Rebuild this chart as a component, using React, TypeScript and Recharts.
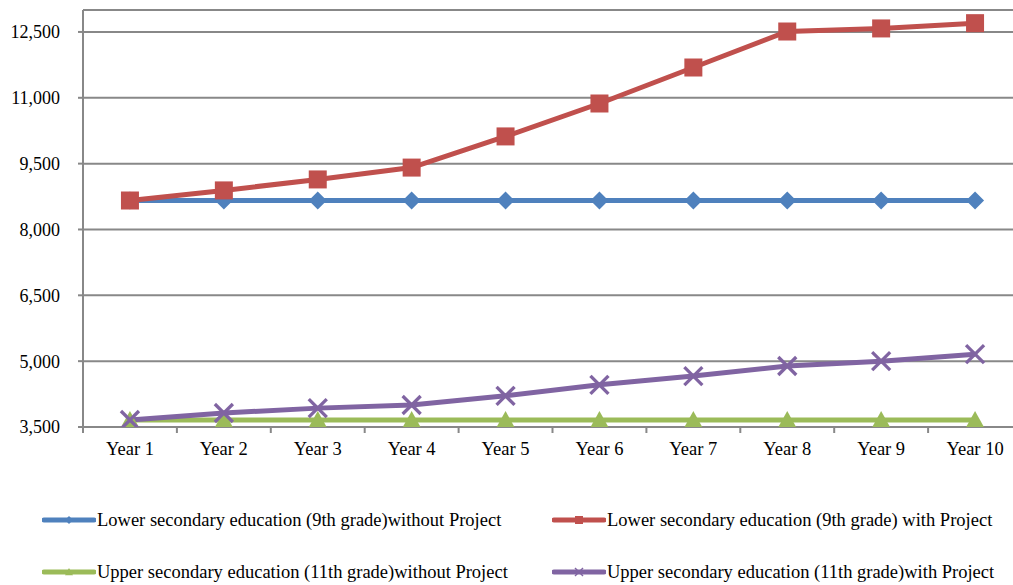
import { LineChart, Line, XAxis, YAxis, CartesianGrid } from 'recharts'

const years = ['Year 1', 'Year 2', 'Year 3', 'Year 4', 'Year 5', 'Year 6', 'Year 7', 'Year 8', 'Year 9', 'Year 10']
const lowerWithout = [8660, 8660, 8660, 8660, 8660, 8660, 8660, 8660, 8660, 8660]
const lowerWith = [8660, 8890, 9140, 9410, 10120, 10870, 11690, 12510, 12580, 12700]
const upperWithout = [3660, 3660, 3660, 3660, 3660, 3660, 3660, 3660, 3660, 3660]
const upperWith = [3660, 3820, 3930, 4000, 4210, 4460, 4660, 4890, 5000, 5160]
const yTicks = [3500, 5000, 6500, 8000, 9500, 11000, 12500]

const FONT = '"Liberation Serif", "Times New Roman", serif'
const GRID = '#888888'

const series = [
  { key: 'lowerWithout', name: 'Lower secondary education (9th grade)without Project', color: '#4F81BD', marker: 'diamond' },
  { key: 'lowerWith', name: 'Lower secondary education (9th grade) with Project', color: '#C0504D', marker: 'square' },
  { key: 'upperWithout', name: 'Upper secondary education (11th grade)without Project', color: '#9BBB59', marker: 'triangle' },
  { key: 'upperWith', name: 'Upper secondary education (11th grade)with Project', color: '#8064A2', marker: 'x' },
]

const data = years.map((label, i) => ({
  pos: i + 1,
  label,
  lowerWithout: lowerWithout[i],
  lowerWith: lowerWith[i],
  upperWithout: upperWithout[i],
  upperWith: upperWith[i],
}))

// ticks at category centres get a label, ticks at category edges get a tick mark
const xTicks: number[] = []
for (let i = 0; i <= years.length; i++) {
  xTicks.push(i + 0.5)
  if (i < years.length) xTicks.push(i + 1)
}

function Marker({ type, cx, cy, color, r }: { type: string; cx: number; cy: number; color: string; r: number }) {
  if (type === 'diamond') {
    return <polygon points={`${cx},${cy - r} ${cx + r},${cy} ${cx},${cy + r} ${cx - r},${cy}`} fill={color} />
  }
  if (type === 'square') {
    return <rect x={cx - r} y={cy - r} width={r * 2} height={r * 2} fill={color} />
  }
  if (type === 'triangle') {
    return <polygon points={`${cx},${cy - r} ${cx + r},${cy + r * 0.8} ${cx - r},${cy + r * 0.8}`} fill={color} />
  }
  return (
    <g stroke={color} strokeWidth={r / 2.7}>
      <line x1={cx - r} y1={cy - r} x2={cx + r} y2={cy + r} />
      <line x1={cx - r} y1={cy + r} x2={cx + r} y2={cy - r} />
    </g>
  )
}

function XTick(props: any) {
  const { x, y, payload } = props
  const v = payload.value
  if (Number.isInteger(v)) {
    return (
      <text x={x} y={y} dy="0.72em" textAnchor="middle" fontFamily={FONT} fontSize={18.5} fill="#000">
        {years[v - 1]}
      </text>
    )
  }
  return <line x1={x} y1={y - 15} x2={x} y2={y - 9} stroke={GRID} strokeWidth={2} />
}

function LegendItem({ s, left, top }: { s: (typeof series)[number]; left: number; top: number }) {
  return (
    <div style={{ position: 'absolute', left, top, display: 'flex', alignItems: 'center', height: 20 }}>
      <svg width={54} height={20}>
        <line x1={2} y1={10} x2={52} y2={10} stroke={s.color} strokeWidth={5} strokeLinecap="round" />
        <Marker type={s.marker} cx={27} cy={10} color={s.color} r={4} />
      </svg>
      <span style={{ fontFamily: FONT, fontSize: 18.5, color: '#000', whiteSpace: 'nowrap', marginLeft: 1 }}>{s.name}</span>
    </div>
  )
}

export default function App() {
  return (
    <div style={{ position: 'absolute', left: 0, top: 0, width: 1013, height: 585, overflow: 'hidden', background: '#fff' }}>
      <LineChart width={1030} height={470} data={data} margin={{ top: 10, right: 8, bottom: 0, left: 0 }}>
        <CartesianGrid vertical={false} stroke={GRID} strokeWidth={2} />
        <XAxis
          dataKey="pos"
          type="number"
          domain={[0.5, 10.5]}
          ticks={xTicks}
          interval={0}
          tick={<XTick />}
          tickLine={false}
          tickSize={5}
          tickMargin={10}
          height={43}
          stroke={GRID}
          strokeWidth={2}
        />
        <YAxis
          domain={[3500, 13000]}
          ticks={yTicks}
          interval={0}
          width={83}
          tickSize={5}
          tickMargin={18}
          tickFormatter={(v: number) => v.toLocaleString('en-US')}
          tick={{ fill: '#000', fontFamily: FONT, fontSize: 18 }}
          stroke={GRID}
          strokeWidth={2}
          allowDataOverflow
        />
        {series.map((s) => (
          <Line
            key={s.key}
            dataKey={s.key}
            stroke={s.color}
            strokeWidth={5}
            isAnimationActive={false}
            dot={(p: any) => <Marker key={`${s.key}-${p.index}`} type={s.marker} cx={p.cx} cy={p.cy} color={s.color} r={9} />}
            activeDot={false}
          />
        ))}
      </LineChart>
      <LegendItem s={series[0]} left={42} top={510} />
      <LegendItem s={series[1]} left={552} top={510} />
      <LegendItem s={series[2]} left={42} top={562} />
      <LegendItem s={series[3]} left={552} top={562} />
    </div>
  )
}
